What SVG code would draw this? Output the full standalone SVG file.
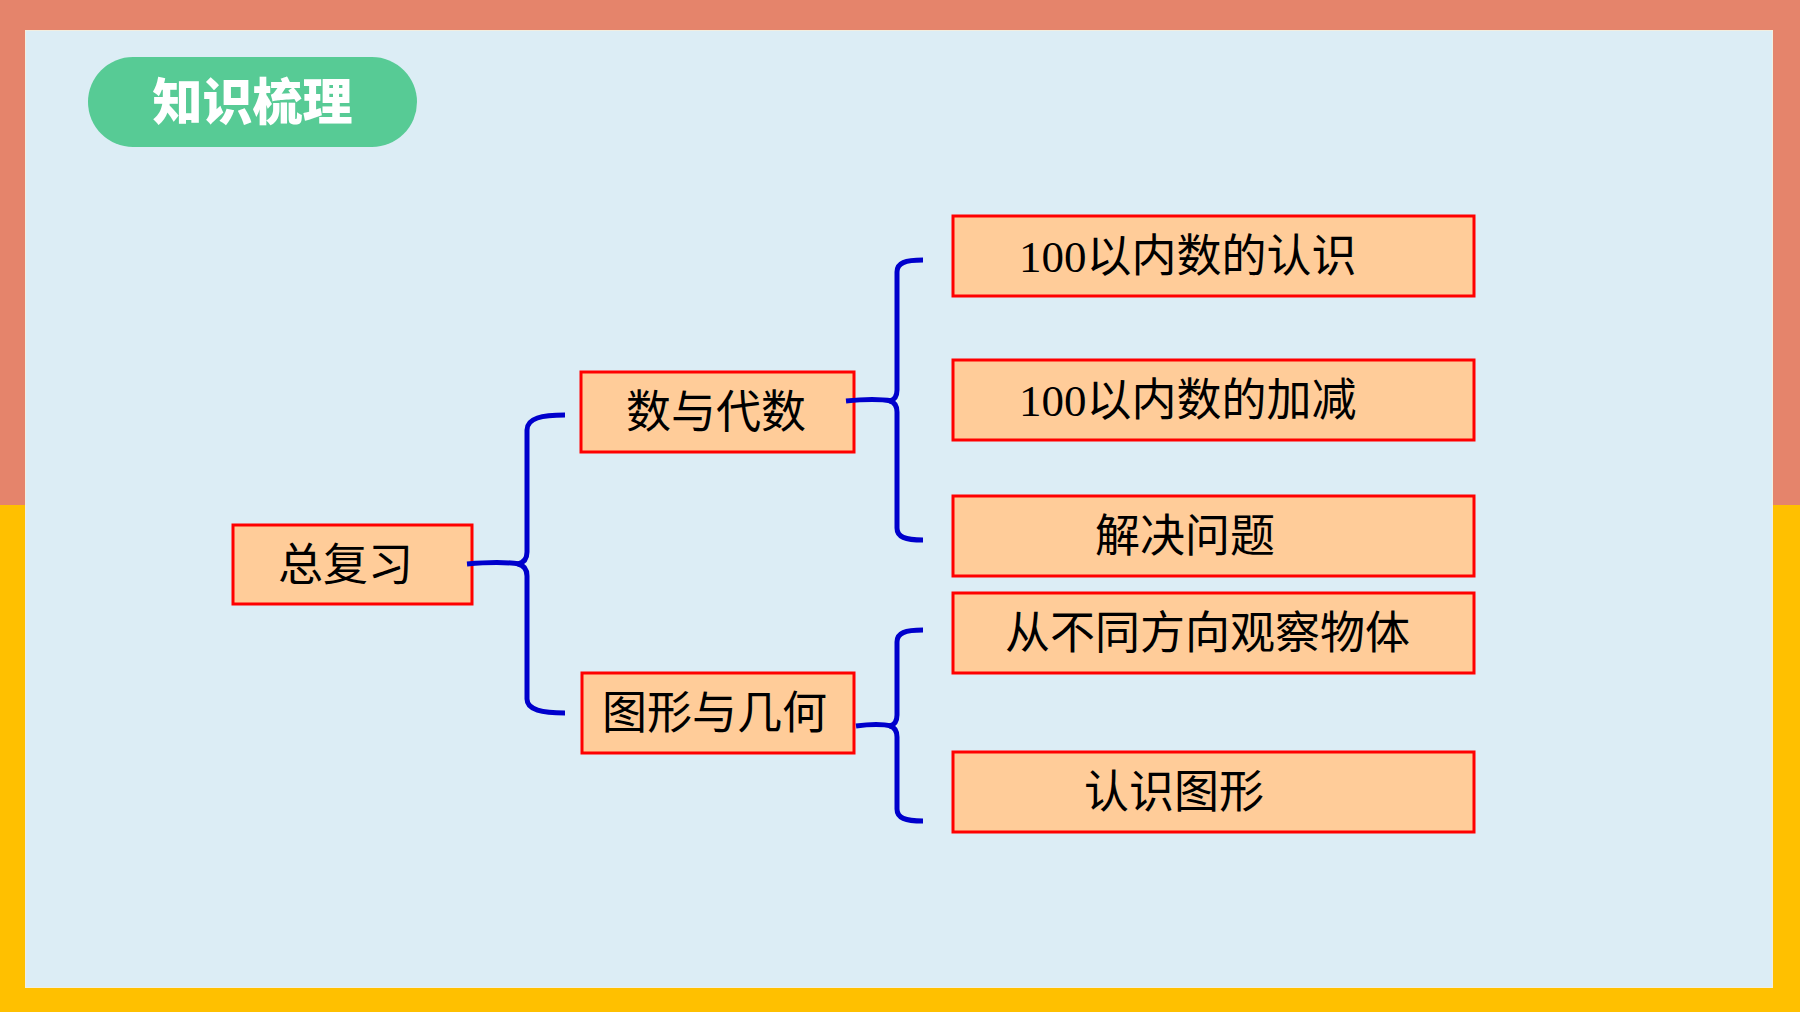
<svg xmlns="http://www.w3.org/2000/svg" width="1800" height="1012" viewBox="0 0 1800 1012">
<style>
.box{fill:#FFCC99;stroke:#FF0000;stroke-width:3}
.t{font-family:"Liberation Serif","Noto Sans CJK SC",serif;font-size:45px;fill:#000000}
.brace{fill:none;stroke:#0000CC;stroke-width:5;stroke-linecap:butt;stroke-linejoin:round}
</style>
<rect x="0" y="0" width="1800" height="505" fill="#E5846B"/>
<rect x="0" y="505" width="1800" height="507" fill="#FFC000"/>
<rect x="25.5" y="30.5" width="1747" height="957" fill="#DCEDF5" stroke="#F2EEE0" stroke-width="1"/>
<g id="title">
<rect x="88" y="57" width="329" height="90" rx="45" ry="45" fill="#57CB95"/>
<text x="252.5" y="120" text-anchor="middle" style="font-family:'Noto Sans CJK SC',sans-serif;font-size:50px;font-weight:900;fill:#FFFFFF">知识梳理</text>
</g>
<g id="node-root">
<rect class="box" x="233" y="525" width="239" height="79"/>
<text class="t" x="278" y="581">总复习</text>
</g>
<g id="node-algebra">
<rect class="box" x="581" y="372" width="273" height="80"/>
<text class="t" x="626" y="428">数与代数</text>
</g>
<g id="node-geometry">
<rect class="box" x="582" y="673" width="272" height="80"/>
<text class="t" x="602" y="729">图形与几何</text>
</g>
<g id="node-a1">
<rect class="box" x="953" y="216" width="521" height="80"/>
<text class="t" x="1019" y="272">100以内数的认识</text>
</g>
<g id="node-a2">
<rect class="box" x="953" y="360" width="521" height="80"/>
<text class="t" x="1019" y="416">100以内数的加减</text>
</g>
<g id="node-a3">
<rect class="box" x="953" y="496" width="521" height="80"/>
<text class="t" x="1095" y="552">解决问题</text>
</g>
<g id="node-g1">
<rect class="box" x="953" y="593" width="521" height="80"/>
<text class="t" x="1005" y="649">从不同方向观察物体</text>
</g>
<g id="node-g2">
<rect class="box" x="953" y="752" width="521" height="80"/>
<text class="t" x="1084" y="808">认识图形</text>
</g>
<g id="connectors">
<path class="brace" d="M565,415 C542,415 527,418 527,430 L527,552 Q527,562 518,564 Q527,566 527,576 L527,699 C527,710 542,713 565,713"/>
<path class="brace" d="M467,564 Q500,561 520,564"/>
<path class="brace" d="M923,260 C905,260 897,263 897,272 L897,390 Q897,399 890,401 Q897,403 897,412 L897,528 C897,537 905,540 923,540"/>
<path class="brace" d="M846,401 Q875,398 892,401"/>
<path class="brace" d="M923,630 C905,630 897,633 897,642 L897,715 Q897,724 890,726 Q897,728 897,737 L897,809 C897,818 905,821 923,821"/>
<path class="brace" d="M856,726 Q878,723 892,726"/>
</g>
</svg>
